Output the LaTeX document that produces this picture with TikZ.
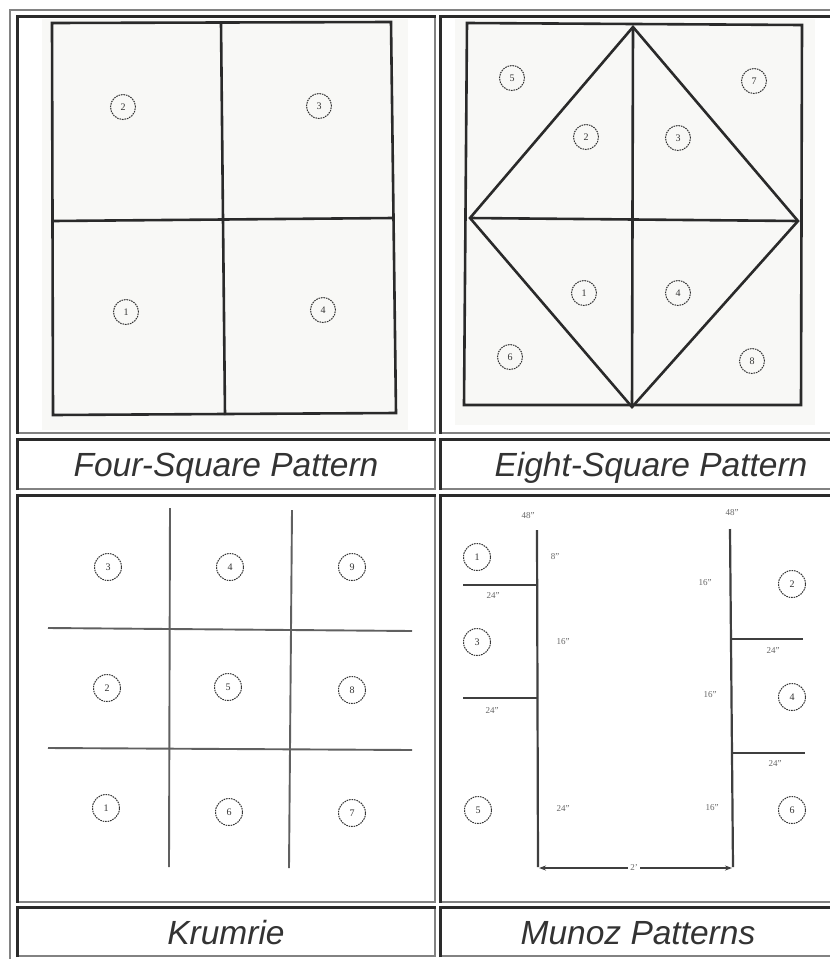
\documentclass[tikz,border=0pt]{standalone}
\usepackage{fontspec}
\setmainfont{Liberation Serif}
\newfontfamily\capfont{Liberation Sans}
\usetikzlibrary{arrows.meta}
\definecolor{dk}{HTML}{2A2A2A}
\definecolor{bd}{HTML}{828282}
\definecolor{captxt}{HTML}{333333}
\definecolor{ink}{HTML}{333333}
\definecolor{scan}{HTML}{F8F8F6}
\newcommand\cellbox[4]{%
  \draw[bd,line width=2pt] (#1,#4-1) -- (#3-1,#4-1) -- (#3-1,#2);
  \draw[dk,line width=2.5pt] (#1+1.25,#4) -- (#1+1.25,#2+1.25) -- (#3,#2+1.25);}
\begin{document}
\begin{tikzpicture}[x=1pt,y=-1pt,
  numc/.style={circle,draw=ink,line width=1pt,dash pattern=on 1.6pt off 0.9pt,minimum size=25pt,inner sep=0pt,font=\fontsize{10}{10}\selectfont,text=ink},
  lbl/.style={font=\fontsize{9}{9}\selectfont,text=ink!75,inner sep=0.5pt},
  captext/.style={font=\capfont\itshape\fontsize{33.5}{33.5}\selectfont,text=captxt,anchor=base,inner sep=0pt},
  pen/.style={line width=2.6pt,draw=dk,line join=miter},
  pengrid/.style={line width=1.9pt,draw=gray!75!black},
  penm/.style={line width=2.2pt,draw=dk!90}]
\clip (0,0) rectangle (830,959);
\fill[white] (0,0) rectangle (830,959);
% outer table border
\draw[bd,line width=2pt] (10,975) -- (10,10) -- (875,10);
% cells
\cellbox{16}{15}{436}{434}
\cellbox{439}{15}{860}{434}
\cellbox{16}{438}{436}{490}
\cellbox{439}{438}{860}{490}
\cellbox{16}{494}{436}{903}
\cellbox{439}{494}{860}{903}
\cellbox{16}{906}{436}{957}
\cellbox{439}{906}{860}{957}
% ---------- Four-square ----------
\fill[scan] (42,19) rectangle (408,430);
\draw[pen] (52,23) -- (391,22) -- (396,413) -- (53,415) -- cycle;
\draw[pen] (221,23) -- (225,415);
\draw[pen] (53,221) -- (393,218);
\node[numc] (a2) at (123,107) {2};
\node[numc] (a3) at (319,106) {3};
\node[numc] (a1) at (126,312) {1};
\node[numc] (a4) at (323,310) {4};
% ---------- Eight-square ----------
\fill[scan] (455,19) rectangle (815,425);
\draw[pen] (467,23) -- (802,25) -- (801,405) -- (464,405) -- cycle;
\coordinate (dt) at (633,27);
\coordinate (dr) at (798,221);
\coordinate (db) at (632,407);
\coordinate (dl) at (470,218);
\draw[pen] (dt) -- (dr) -- (db) -- (dl) -- cycle;
\draw[pen] (dt) -- (db);
\draw[pen] (dl) -- (dr);
\node[numc] (b5) at (512,78) {5};
\node[numc] (b7) at (754,81) {7};
\node[numc] (b2) at (586,137) {2};
\node[numc] (b3) at (678,138) {3};
\node[numc] (b1) at (584,293) {1};
\node[numc] (b4) at (678,293) {4};
\node[numc] (b6) at (510,357) {6};
\node[numc] (b8) at (752,361) {8};
% ---------- Krumrie ----------
\draw[pengrid] (170,508) -- (169,867);
\draw[pengrid] (292,510) -- (289,868);
\draw[pengrid] (48,628) -- (412,631);
\draw[pengrid] (48,748) -- (412,750);
\node[numc,minimum size=27pt] (k3) at (108,567) {3};
\node[numc,minimum size=27pt] (k4) at (230,567) {4};
\node[numc,minimum size=27pt] (k9) at (352,567) {9};
\node[numc,minimum size=27pt] (k2) at (107,688) {2};
\node[numc,minimum size=27pt] (k5) at (228,687) {5};
\node[numc,minimum size=27pt] (k8) at (352,690) {8};
\node[numc,minimum size=27pt] (k1) at (106,808) {1};
\node[numc,minimum size=27pt] (k6) at (229,812) {6};
\node[numc,minimum size=27pt] (k7) at (352,813) {7};
% ---------- Munoz ----------
\coordinate (lt) at (537,530);
\coordinate (lb) at (538,867);
\coordinate (rt) at (730,529);
\coordinate (rb) at (733,867);
\draw[penm] (lt) -- (lb);
\draw[penm] (rt) -- (rb);
\draw[penm] (463,585) -- (537,585);
\draw[penm] (463,698) -- (537,698);
\draw[penm] (732,639) -- (803,639);
\draw[penm] (733,753) -- (805,753);
\draw[line width=1.3pt,draw=dk!90,{Stealth[length=7pt,width=5pt]}-{Stealth[length=7pt,width=5pt]}] (539,868) -- (732,868);
\node[lbl,fill=white,inner sep=2pt] (w) at (634,867) {2'};
\node[lbl] (h1) at (528,516) {48"};
\node[lbl] (h2) at (732,513) {48"};
\node[lbl] (s1) at (555,557) {8"};
\node[lbl] (s2) at (563,642) {16"};
\node[lbl] (s3) at (563,808) {24"};
\node[lbl] (s4) at (705,583) {16"};
\node[lbl] (s5) at (710,695) {16"};
\node[lbl] (s6) at (712,808) {16"};
\node[lbl] (g1) at (493,595) {24"};
\node[lbl] (g2) at (492,710) {24"};
\node[lbl] (g3) at (773,650) {24"};
\node[lbl] (g4) at (775,763) {24"};
\node[numc,minimum size=27pt] (m1) at (477,557) {1};
\node[numc,minimum size=27pt] (m3) at (477,642) {3};
\node[numc,minimum size=27pt] (m5) at (478,810) {5};
\node[numc,minimum size=27pt] (m2) at (792,584) {2};
\node[numc,minimum size=27pt] (m4) at (792,697) {4};
\node[numc,minimum size=27pt] (m6) at (792,810) {6};
% ---------- captions ----------
\node[captext] (t1) at (226,476) {Four-Square Pattern};
\node[captext] (t2) at (651,476) {Eight-Square Pattern};
\node[captext] (t3) at (226,944) {Krumrie};
\node[captext] (t4) at (638,944) {Munoz Patterns};
\end{tikzpicture}
\end{document}
